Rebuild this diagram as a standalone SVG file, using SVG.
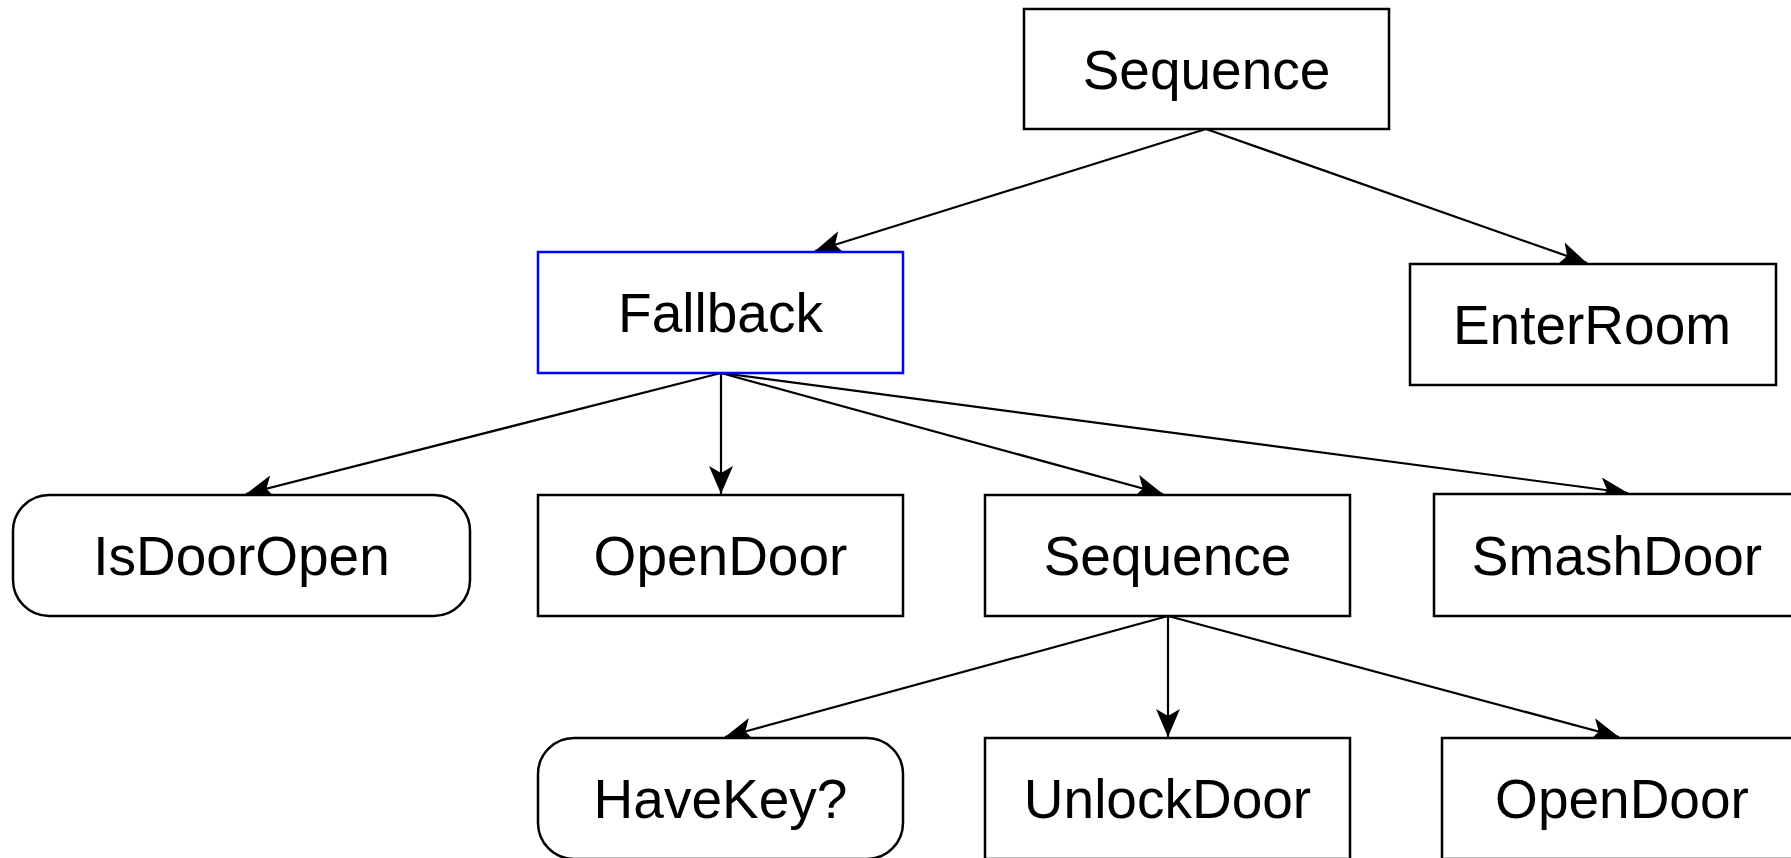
<svg xmlns="http://www.w3.org/2000/svg" width="1791" height="858" viewBox="0 0 1791 858">
  <style>
    .box { fill: #ffffff; stroke: #000000; stroke-width: 2.5; }
    .sel { stroke: #0000ff; }
    .lbl { font-family: "Liberation Sans", Arial, Helvetica, sans-serif; font-size: 55px; fill: #000000; text-anchor: middle; }
    .edge { fill: none; stroke: #000000; stroke-width: 2.2; }
  </style>
  <defs>
    <marker id="arrow" markerUnits="userSpaceOnUse" markerWidth="28" markerHeight="24" refX="28" refY="12" orient="auto" viewBox="0 0 28 24">
      <path d="M0,0 L28,12 L0,24 L7,12 Z" fill="#000000"/>
    </marker>
  </defs>
  <rect width="1791" height="858" fill="#ffffff"/>

  <g id="connectors">
    <line class="edge" x1="1206" y1="129" x2="815" y2="251" marker-end="url(#arrow)"/>
    <line class="edge" x1="1206" y1="129" x2="1587" y2="263" marker-end="url(#arrow)"/>
    <line class="edge" x1="721" y1="373" x2="246" y2="494" marker-end="url(#arrow)"/>
    <line class="edge" x1="721" y1="373" x2="721" y2="494" marker-end="url(#arrow)"/>
    <line class="edge" x1="721" y1="373" x2="1163" y2="494" marker-end="url(#arrow)"/>
    <line class="edge" x1="721" y1="373" x2="1628" y2="493" marker-end="url(#arrow)"/>
    <line class="edge" x1="1168" y1="616" x2="725" y2="737" marker-end="url(#arrow)"/>
    <line class="edge" x1="1168" y1="616" x2="1168" y2="737" marker-end="url(#arrow)"/>
    <line class="edge" x1="1168" y1="616" x2="1619" y2="737" marker-end="url(#arrow)"/>
  </g>

  <g id="sequence-root">
    <rect class="box" x="1024" y="9" width="365" height="120"/>
    <text class="lbl" x="1206.5" y="89">Sequence</text>
  </g>
  <g id="fallback">
    <rect class="box sel" x="538" y="252" width="365" height="121"/>
    <text class="lbl" x="720.5" y="332">Fallback</text>
  </g>
  <g id="enter-room">
    <rect class="box" x="1410" y="264" width="366" height="121"/>
    <text class="lbl" x="1592" y="344">EnterRoom</text>
  </g>
  <g id="is-door-open">
    <rect class="box" x="13" y="495" width="457" height="121" rx="36" ry="36"/>
    <text class="lbl" x="241.5" y="575">IsDoorOpen</text>
  </g>
  <g id="open-door-1">
    <rect class="box" x="538" y="495" width="365" height="121"/>
    <text class="lbl" x="720.5" y="575">OpenDoor</text>
  </g>
  <g id="sequence-unlock">
    <rect class="box" x="985" y="495" width="365" height="121"/>
    <text class="lbl" x="1167.5" y="575">Sequence</text>
  </g>
  <g id="smash-door">
    <rect class="box" x="1434" y="494" width="365" height="122"/>
    <text class="lbl" x="1617" y="575">SmashDoor</text>
  </g>
  <g id="have-key">
    <rect class="box" x="538" y="738" width="365" height="121" rx="36" ry="36"/>
    <text class="lbl" x="720.5" y="818">HaveKey?</text>
  </g>
  <g id="unlock-door">
    <rect class="box" x="985" y="738" width="365" height="121"/>
    <text class="lbl" x="1167.5" y="818">UnlockDoor</text>
  </g>
  <g id="open-door-2">
    <rect class="box" x="1442" y="738" width="365" height="121"/>
    <text class="lbl" x="1622" y="818">OpenDoor</text>
  </g>
</svg>
